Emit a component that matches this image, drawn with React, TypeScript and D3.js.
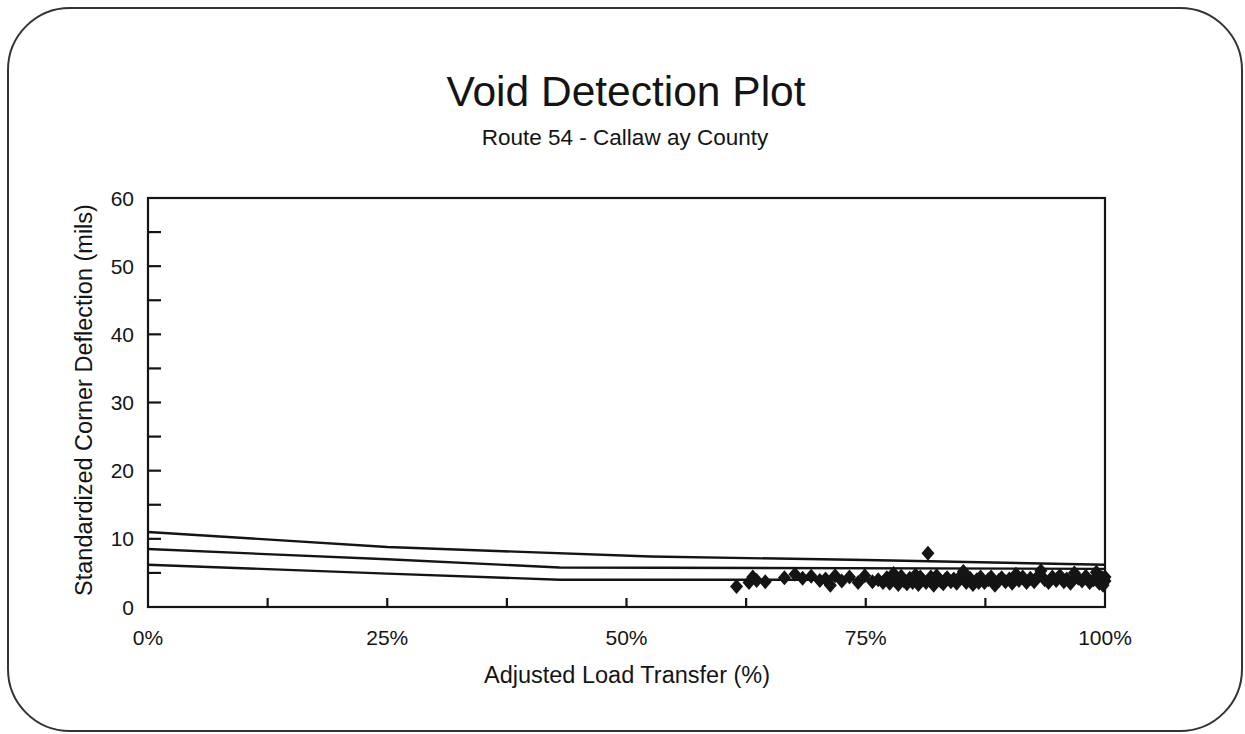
import React from "react";
import * as d3 from "d3";

const titleText = "Void Detection Plot";
const subtitleText = "Route 54 - Callaw ay County";
const xAxisTitle = "Adjusted Load Transfer (%)";
const yAxisTitle = "Standardized Corner Deflection (mils)";

const xTickLabels = [0, 25, 50, 75, 100];
const xMinorTicks = [12.5, 25, 37.5, 50, 62.5, 75, 87.5];
const yTickLabels = [0, 10, 20, 30, 40, 50, 60];
const yMinorTicks = [5, 10, 15, 20, 25, 30, 35, 40, 45, 50, 55];

// threshold curves (x = % load transfer, y = mils)
const upperCurve: [number, number][] = [[0, 11.0], [25, 8.8], [52.5, 7.4], [75, 6.9], [100, 6.2]];
const middleCurve: [number, number][] = [[0, 8.5], [25, 7.0], [43, 5.8], [100, 5.6]];
const lowerCurve: [number, number][] = [[0, 6.2], [25, 4.9], [43, 4.0], [100, 4.0]];

const transferPct = [
  61.5, 62.8, 63.2, 63.6, 64.5, 66.5, 67.6, 68.4, 69.3, 70.2, 70.8, 71.3, 71.8, 72.5, 73.3, 74.2,
  74.9, 75.7, 76.3, 76.8, 77.2, 77.5, 77.9, 78.1, 78.4, 78.7, 79.0, 79.3, 79.6, 79.9, 80.2, 80.5,
  80.9, 81.3, 81.5, 81.8, 82.1, 82.4, 82.8, 83.1, 83.5, 83.9, 84.2, 84.5, 84.9, 85.2, 85.5, 85.9,
  86.2, 86.6, 87.0, 87.4, 87.8, 88.1, 88.5, 88.9, 89.2, 89.6, 90.0, 90.3, 90.7, 91.0, 91.4, 91.8,
  92.2, 92.6, 93.0, 93.3, 93.7, 94.1, 94.5, 94.9, 95.3, 95.7, 96.0, 96.4, 96.8, 97.2, 97.6, 98.0,
  98.4, 98.8, 99.1, 99.4, 99.7, 100.0, 100.0, 99.8, 77.6, 80.7, 83.3, 86.8, 90.5, 95.1,
];
const deflection = [
  3.0, 3.6, 4.4, 3.9, 3.7, 4.3, 4.8, 4.2, 4.5, 3.9, 4.1, 3.2, 4.6, 3.8, 4.4, 3.6,
  4.6, 3.7, 4.0, 3.6, 4.3, 3.5, 4.9, 3.9, 3.3, 4.5, 3.8, 3.4, 4.2, 3.6, 4.7, 3.3,
  4.0, 3.6, 7.9, 4.4, 3.2, 4.6, 3.8, 3.4, 4.3, 3.7, 4.1, 3.5, 4.5, 5.2, 3.6, 4.2,
  3.3, 4.0, 4.4, 3.6, 4.0, 4.4, 3.2, 3.9, 4.3, 3.7, 4.1, 3.5, 4.8, 3.9, 4.4, 3.6,
  4.2, 3.7, 4.5, 5.3, 4.0, 3.6, 4.4, 3.9, 4.6, 3.7, 4.1, 3.5, 5.0, 4.2, 3.8, 4.5,
  3.6, 4.0, 5.1, 3.5, 4.3, 3.8, 4.4, 3.2, 4.1, 4.4, 4.0, 3.6, 4.0, 4.3,
];

const W = 1245;
const H = 734;
const plot = { left: 148, right: 1105, top: 198, bottom: 607 };
const FONT = "'Liberation Sans', Arial, Helvetica, sans-serif";
const INK = "#141414";

export default function App() {
  const x = d3.scaleLinear().domain([0, 100]).range([plot.left, plot.right]);
  const y = d3.scaleLinear().domain([0, 60]).range([plot.bottom, plot.top]);
  const line = d3
    .line<[number, number]>()
    .x((d) => x(d[0]))
    .y((d) => y(d[1]));
  const diamond = "M0,-7.5L6.5,0L0,7.5L-6.5,0Z";
  const points = transferPct.map((t, i) => [t, deflection[i]] as [number, number]);

  return (
    <svg
      width={W}
      height={H}
      style={{ position: "absolute", left: 0, top: 0, background: "#fff", display: "block" }}
      fontFamily={FONT}
    >
      <rect x={0} y={0} width={W} height={H} fill="#fff" />
      <rect x={8} y={8} width={1234} height={723} rx={62} ry={62} fill="none" stroke="#333" strokeWidth={2} />

      <text x={626} y={106} textAnchor="middle" fontSize={42.5} fill={INK}>
        {titleText}
      </text>
      <text x={625} y={145} textAnchor="middle" fontSize={22.5} fill={INK}>
        {subtitleText}
      </text>

      {/* plot frame */}
      <rect
        x={plot.left}
        y={plot.top}
        width={plot.right - plot.left}
        height={plot.bottom - plot.top}
        fill="none"
        stroke={INK}
        strokeWidth={2.2}
      />

      {/* y ticks */}
      {yMinorTicks.map((v) => (
        <line key={"yt" + v} x1={plot.left} x2={plot.left + 13} y1={y(v)} y2={y(v)} stroke={INK} strokeWidth={2.2} />
      ))}
      {yTickLabels.map((v) => (
        <text key={"yl" + v} x={plot.left - 14} y={y(v) + 7.5} textAnchor="end" fontSize={21} fill={INK}>
          {v}
        </text>
      ))}

      {/* x ticks */}
      {xMinorTicks.map((v) => (
        <line key={"xt" + v} x1={x(v)} x2={x(v)} y1={plot.bottom} y2={plot.bottom - 9} stroke={INK} strokeWidth={2.2} />
      ))}
      {xTickLabels.map((v) => (
        <text key={"xl" + v} x={x(v)} y={645} textAnchor="middle" fontSize={21} fill={INK}>
          {v + "%"}
        </text>
      ))}

      <text x={627} y={683} textAnchor="middle" fontSize={23.5} fill={INK}>
        {xAxisTitle}
      </text>
      <text
        transform={`translate(92, ${400}) rotate(-90)`}
        textAnchor="middle"
        fontSize={23.5}
        fill={INK}
      >
        {yAxisTitle}
      </text>

      {/* curves */}
      {[upperCurve, middleCurve, lowerCurve].map((c, i) => (
        <path key={"c" + i} d={line(c) || ""} fill="none" stroke={INK} strokeWidth={2.4} />
      ))}

      {/* data points */}
      {points.map((p, i) => (
        <path key={"p" + i} d={diamond} transform={`translate(${x(p[0])},${y(p[1])})`} fill={INK} />
      ))}
    </svg>
  );
}
